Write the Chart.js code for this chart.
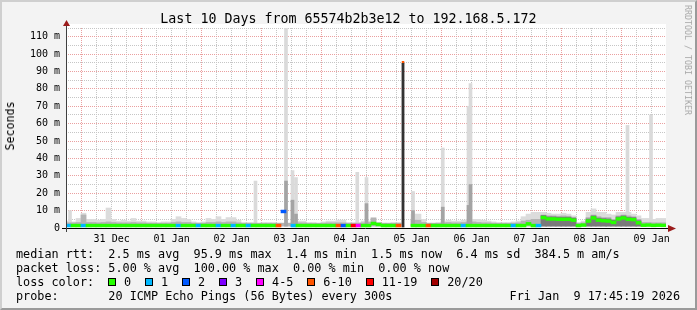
<!DOCTYPE html>
<html><head><meta charset="utf-8">
<script src="https://cdn.jsdelivr.net/npm/chart.js@4.4.0/dist/chart.umd.min.js"></script>
<style>
html,body{margin:0;padding:0;background:#f3f3f3;}
#wrap{position:relative;width:697px;height:310px;background:#f3f3f3;overflow:hidden;font-family:"DejaVu Sans Mono",monospace;color:#000;}
#frame{position:absolute;left:0;top:0;width:697px;height:310px;box-sizing:border-box;border-style:solid;border-width:2px;border-color:#cfcfcf #9a9a9a #9a9a9a #cfcfcf;pointer-events:none;}
canvas{position:absolute;left:0;top:0;}
.t{position:absolute;white-space:pre;font-size:11.8px;line-height:14px;}
#title{position:absolute;left:0;top:11px;width:697px;text-align:center;white-space:pre;font-size:13.3px;line-height:16px;}
#ylab{position:absolute;left:10px;top:126px;white-space:pre;font-size:11.6px;line-height:14px;transform:translate(-50%,-50%) rotate(-90deg);}
#wm{position:absolute;left:688px;top:60px;white-space:pre;font-size:8.3px;line-height:10px;color:#a8a8a8;transform:translate(-50%,-50%) rotate(90deg);}
.sw{position:absolute;width:8px;height:8px;box-sizing:border-box;border:1px solid #000;top:278px;}
</style></head>
<body>
<div id="wrap">
<canvas id="c" width="697" height="310"></canvas>
<div id="title"></div>
<div id="ylab">Seconds</div>
<div id="wm">RRDTOOL / TOBI OETIKER</div>
<div id="legend"></div>
<div id="frame"></div>
</div>
<script>
// ---------------- data ----------------
const titleText = "Last 10 Days from 65574b2b3e12 to 192.168.5.172";
const dayLabels = ["31 Dec","01 Jan","02 Jan","03 Jan","04 Jan","05 Jan","06 Jan","07 Jan","08 Jan","09 Jan"];
const RANGE_HOURS = 240;          // Dec 30 17:45 -> Jan 9 17:45
const FIRST_MIDNIGHT = 6.25;      // hours after start
const BIN_HOURS = 2;
const SMOKE_FLOOR = 1.1;          // ms
const LINE_HALF = 0.8;            // ms, half thickness of median band

// light smoke (max of pings) per 2h bin, ms
const smokeHi = [
 4,3.5,5.5,8.5,5,5,4.5,5,11.5,5,
 4,4.5,4,5.5,4,4,3.5,3.5,3,3.5,
 3.5,5,6.5,5.5,5,3.5,3,3.5,5.5,5,
 6.5,5,6,6,4.5,3,3,3,2.5,3,
 3,3,2.5,2.5,2.5,3,4,4,3,3,
 2.5,3.5,4,4,4.5,4.5,3,3,3,4,
 4,6,3,2.5,2.5,3,3,null,null,8,
 8,5,2.5,2.5,3,4,4.5,4,4,4.5,
 5,5,5,4.5,4,3.5,3,3,3,3.5,
 4,6.5,8,9,9,9,8.5,8,8,8.5,
 8,7,3,4,9,11,9,9,8,7.5,
 9,9,9,8,7,5.5,5.5,5,5.5,5.5
];
// darker inner smoke per bin, ms
const smokeMid = [
 3,3,3.2,7.5,3.2,3.2,3,3.2,3.5,3.2,
 3,3,3,3.2,3,3,2.8,2.8,2.8,2.8,
 2.8,3.2,3.5,3.2,3.2,2.8,2.8,2.8,3.2,3.2,
 3.5,3.2,3.5,3.5,3,2.8,2.8,2.8,2.8,2.8,
 2.8,2.8,2.8,2.8,2.8,2.8,3,3,2.8,2.8,
 2.8,2.8,3,3,3,3,2.8,2.8,2.8,3,
 3.2,5.7,3,2.8,2.8,2.8,2.8,null,null,4.5,
 4.5,3.2,2.8,2.8,2.8,3,3.2,3,3,3.2,
 3.5,3.5,3.2,3,3,2.8,2.8,2.8,2.8,2.8,
 3,4,4.5,5,5,7.5,7,7,6.8,7,
 6.8,6,2.8,3,6,7.5,6.5,6,6,5,
 7,7.5,7,6.5,5,3.2,3.2,3,3,3
];
// darkest smoke core hugging the median per bin, ms
const smokeCore = [
 null,null,null,null,null,null,null,null,null,null,
 null,null,null,null,null,null,null,null,null,null,
 null,null,null,null,null,null,null,null,null,null,
 null,null,null,null,null,null,null,null,null,null,
 null,null,null,null,null,null,null,null,null,null,
 null,null,null,null,null,null,null,null,null,null,
 null,null,null,null,null,null,null,null,null,null,
 null,null,null,null,null,null,null,null,null,null,
 null,null,null,null,null,null,null,null,null,null,
 null,null,null,null,null,7.2,6.4,6.4,6.2,6.2,
 6.2,5.7,null,null,5.2,7.0,5.7,5.4,5.2,4.4,
 6.4,7.0,6.2,6.0,4.2,null,null,null,null,null
];
// median rtt per bin, ms
const median = [
 1.4,1.4,1.4,1.4,1.4,1.4,1.4,1.4,1.4,1.4,
 1.4,1.4,1.4,1.4,1.4,1.4,1.4,1.4,1.4,1.4,
 1.4,1.4,1.4,1.4,1.4,1.4,1.4,1.4,1.4,1.4,
 1.4,1.4,1.4,1.4,1.4,1.4,1.4,1.4,1.4,1.4,
 1.4,1.4,1.4,9.5,null,1.4,1.4,1.4,1.4,1.4,
 1.4,1.4,1.4,1.4,1.4,1.4,1.4,1.4,1.4,1.4,
 1.4,2.6,2.0,1.4,1.4,1.4,1.4,null,null,1.4,
 1.4,1.4,1.4,1.4,1.4,1.4,1.4,1.4,1.4,1.4,
 1.4,1.4,1.4,1.4,1.4,1.4,1.4,1.4,1.4,1.4,
 1.4,1.4,2.4,1.4,1.4,6.0,5.2,5.2,5.0,5.0,
 5.0,4.5,1.4,1.7,4.0,5.8,4.5,4.2,4.0,3.2,
 5.2,5.8,5.0,4.8,3.0,1.6,1.7,1.5,1.6,1.5
];
// loss class per bin (index into lossLabels)
const loss = [
 1,0,0,1,0,0,0,0,0,0,
 0,0,0,0,0,0,0,0,0,0,
 0,0,1,0,0,0,1,0,0,0,
 1,0,0,1,0,0,1,0,0,0,
 0,0,5,2,0,1,0,0,0,0,
 0,0,0,0,5,2,0,6,4,0,
 0,0,0,0,0,0,5,0,0,0,
 0,0,5,0,0,0,0,0,0,1,
 0,0,0,0,0,0,0,0,0,1,
 0,0,0,0,1,0,0,0,0,0,
 0,0,0,0,0,0,0,0,0,0,
 0,0,0,0,0,0,0,0,0,0
];
// short spikes: time (hours after start), max ping and inner smoke, ms
const spikeHours = [1.6, 75.8, 88.0, 90.6, 92.0, 116.5, 120.2, 138.8, 150.7, 161.0, 161.8, 224.6, 234.0];
const spikeHi    = [10,  27,   115,  33,   29,   32,    29,    21,    46,    70,    83,    59,    65];
const spikeMid   = [null,null, 27,   16,   8,    null,  14,    10,    12,    13,    25,    null,  null];
// outage burst: time and median
const outageHours = [134.8];
const outageTop   = [95.9];

const lossLabels = ["0","1","2","3","4-5","6-10","11-19","20/20"];
const lossColors = ["#26ff00","#00b8ff","#0059ff","#7e00ff","#ff00ff","#ff5500","#ff0000","#a10000"];

const statsRtt  = "median rtt:  2.5 ms avg  95.9 ms max  1.4 ms min  1.5 ms now  6.4 ms sd  384.5 m am/s";
const statsLoss = "packet loss: 5.00 % avg  100.00 % max  0.00 % min  0.00 % now";
const probeText = "probe:       20 ICMP Echo Pings (56 Bytes) every 300s";
const dateText  = "Fri Jan  9 17:45:19 2026";

// ---------------- text ----------------
document.getElementById('title').textContent = titleText;
const lg = document.getElementById('legend');
function addText(txt, left, top, extra){
  const d = document.createElement('div'); d.className='t'; d.textContent = txt;
  d.style.left = left+'px'; d.style.top = top+'px';
  if (extra) Object.assign(d.style, extra);
  lg.appendChild(d); return d;
}
addText(statsRtt, 16, 247);
addText(statsLoss, 16, 261);
addText("loss color:", 16, 275);
let sx = 108;
lossLabels.forEach((lab, i) => {
  const s = document.createElement('div'); s.className='sw';
  s.style.left = sx+'px'; s.style.background = lossColors[i]; lg.appendChild(s);
  addText(lab, sx+16, 275);
  sx += 29.9 + 7.12*lab.length;
});
addText(probeText, 16, 289);
addText(dateText, 0, 289, {left:'auto', right:'17px'});

// ---------------- chart ----------------
const binCenter = i => BIN_HOURS*i + BIN_HOURS/2;
const toBand = arr => arr.map((v,i)=>({x:binCenter(i), y: v==null?null:[SMOKE_FLOOR, v]}));
const smokeHiData   = toBand(smokeHi);
const smokeMidData  = toBand(smokeMid);
const smokeCoreData = toBand(smokeCore);
const medianData   = median.map((v,i)=>({x:binCenter(i), y: v==null?null:[v-LINE_HALF, v+LINE_HALF]}));
const spikeHiData  = spikeHours.map((h,i)=>({x:h, y:[SMOKE_FLOOR, spikeHi[i]]}));
const spikeMidData = spikeHours.map((h,i)=>({x:h, y: spikeMid[i]==null?null:[SMOKE_FLOOR, spikeMid[i]]}));
const outageData   = outageHours.map((h,i)=>({x:h, y:[0, outageTop[i]]}));

const gridHours = [];
for (let h = FIRST_MIDNIGHT % 6; h < RANGE_HOURS; h += 6) gridHours.push(h);
const isMidnight = v => Math.abs(((v - FIRST_MIDNIGHT) % 24 + 24) % 24) < 1e-6;
const dayLabelAt = v => {
  const k = Math.round((v - FIRST_MIDNIGHT - 12)/24);
  if (Math.abs(v - (FIRST_MIDNIGHT + 12 + 24*k)) < 1e-6 && k >= 0 && k < dayLabels.length) return dayLabels[k];
  return '';
};

const MINOR = '#c6c6c6', MAJOR = '#eaa0a0';
const font = {family:"'DejaVu Sans Mono'", size:10};

const framePlugin = {
  id:'frame',
  beforeDraw(chart){
    const {ctx, chartArea:a} = chart;
    ctx.save(); ctx.fillStyle = '#ffffff';
    ctx.fillRect(a.left, a.top-4, a.right-a.left, a.bottom-a.top+4);
    ctx.restore();
  },
  afterDraw(chart){
    const {ctx, chartArea:a} = chart;
    ctx.save();
    const x0 = Math.round(a.left)+0.5, yb = Math.round(a.bottom)+0.5;
    ctx.lineWidth = 1;
    ctx.strokeStyle = '#000';
    ctx.beginPath(); ctx.moveTo(a.left-4, yb); ctx.lineTo(a.right+3, yb); ctx.stroke();
    ctx.strokeStyle = '#404040';
    ctx.beginPath(); ctx.moveTo(x0, a.top-4); ctx.lineTo(x0, a.bottom+4); ctx.stroke();
    ctx.fillStyle = '#9b1c1c';
    ctx.beginPath(); ctx.moveTo(x0, a.top-8); ctx.lineTo(x0-3.5, a.top-2); ctx.lineTo(x0+3.5, a.top-2); ctx.closePath(); ctx.fill();
    ctx.beginPath(); ctx.moveTo(a.right+10, yb); ctx.lineTo(a.right+2, yb-3.5); ctx.lineTo(a.right+2, yb+3.5); ctx.closePath(); ctx.fill();
    ctx.restore();
  }
};

// binned series live on axis 'x'; isolated spikes on a hidden twin axis 'xs'
const binned = {grouped:false, categoryPercentage:1, barPercentage:1, borderWidth:0, xAxisID:'x'};
const spiky  = {grouped:false, barThickness:3, borderWidth:0, xAxisID:'xs'};
new Chart(document.getElementById('c'), {
  type:'bar',
  data:{datasets:[
    Object.assign({label:'median', data:medianData, order:0,
      backgroundColor: c => lossColors[loss[c.dataIndex]]}, binned),
    Object.assign({label:'outage', data:outageData, order:1,
      backgroundColor:'#333333', borderColor:lossColors[5], borderSkipped:false}, spiky,
      {borderWidth:{top:2,left:0,right:0,bottom:0}}),
    Object.assign({label:'smokeCore', data:smokeCoreData, order:2, backgroundColor:'#7a7a7a'}, binned),
    Object.assign({label:'spikeMid', data:spikeMidData, order:3, backgroundColor:'#a4a4a4'}, spiky),
    Object.assign({label:'smokeMid', data:smokeMidData, order:4, backgroundColor:'#b4b4b4'}, binned),
    Object.assign({label:'spikeHi', data:spikeHiData, order:5, backgroundColor:'#dadada'}, spiky),
    Object.assign({label:'smokeHi', data:smokeHiData, order:6, backgroundColor:'#dcdcdc'}, binned)
  ]},
  options:{
    responsive:false, animation:false, devicePixelRatio:1,
    layout:{padding:{left:0, top:28, right:31, bottom:62}},
    plugins:{legend:{display:false}, tooltip:{enabled:false}, title:{display:false}},
    scales:{
      x:{type:'linear', min:0, max:RANGE_HOURS, offset:false,
        grid:{offset:false, drawTicks:false, lineWidth:1, color: c => isMidnight(c.tick.value) ? MAJOR : MINOR},
        border:{display:false, dash:[1,1]},
        ticks:{autoSkip:false, maxRotation:0, minRotation:0, padding:5, font, color:'#000',
          callback: v => dayLabelAt(v)},
        afterBuildTicks: s => { s.ticks = gridHours.map(v => ({value:v})); },
        afterFit: s => { s.height = 20; }
      },
      xs:{type:'linear', min:0, max:RANGE_HOURS, offset:false, display:false,
        grid:{display:false, offset:false}},
      y:{type:'linear', min:0, max:115,
        grid:{drawTicks:false, lineWidth:1, color: c => (c.tick.value % 10 === 0) ? MAJOR : MINOR},
        border:{display:false, dash:[1,1]},
        ticks:{autoSkip:false, padding:6, font, color:'#000',
          callback: v => (v % 10 === 0) ? (v === 0 ? '0' : v + ' m') : ''},
        afterBuildTicks: s => { const t=[]; for (let v=0; v<=115; v+=5) t.push({value:v}); s.ticks = t; },
        afterFit: s => { s.width = 66; }
      }
    }
  },
  plugins:[framePlugin]
});
</script>
</body></html>
